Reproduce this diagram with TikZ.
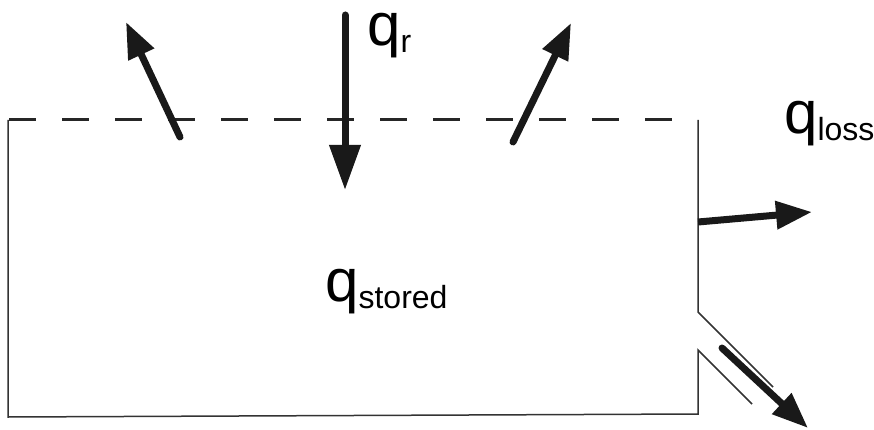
\documentclass[tikz,border=0pt]{standalone}
\usepackage{fontspec}
\setmainfont{Liberation Sans}
\usetikzlibrary{arrows.meta}
\newcommand{\qlabel}[1]{{\fontsize{60}{60}\selectfont q}\raisebox{-7pt}{\fontsize{32}{32}\selectfont #1}}

\begin{document}
\begin{tikzpicture}[x=1pt,y=-1pt,
   wall/.style={draw=black!80,line width=1.5pt},
   surface/.style={draw=black!85,line width=3pt,dash pattern=on 27pt off 26pt},
   flux/.style={draw=black!90,line width=7pt,line cap=round,
                -{Triangle[length=36pt,width=27pt]}},
   lbl/.style={anchor=base west,inner sep=0pt}]
  \useasboundingbox (0,0) rectangle (874,430);
  % control volume
  \draw[wall] (8,120) -- (8,417) -- (698,414) -- (698,350) -- (752,404);
  \draw[wall] (698,120) -- (698,312) -- (773,387);
  \draw[surface] (9,120) -- (698,120);
  % arrow ends
  \coordinate (rtop) at (345,15);
  \coordinate (rbot) at (345,190);
  \coordinate (ltail) at (180,137);
  \coordinate (ltip) at (126,22);
  \coordinate (mtail) at (513,142);
  \coordinate (mtip) at (571,23);
  \coordinate (stail) at (698,222);
  \coordinate (stip) at (812,212);
  \coordinate (dtail) at (722,348);
  \coordinate (dtip) at (808,428);
  % fluxes
  \draw[flux,-{Triangle[length=45pt,width=30pt]}] (rtop) -- (rbot);
  \draw[flux] (ltail) -- (ltip);
  \draw[flux] (mtail) -- (mtip);
  \draw[flux,line cap=butt] (stail) -- (stip);
  \draw[flux] (dtail) -- (dtip);
  % labels
  \node[lbl] (qr) at (367,46) {\qlabel{r}};
  \node[lbl] (qstored) at (325,301) {\qlabel{stored}};
  \node[lbl] (qloss) at (784,134) {\qlabel{loss}};
\end{tikzpicture}
\end{document}
